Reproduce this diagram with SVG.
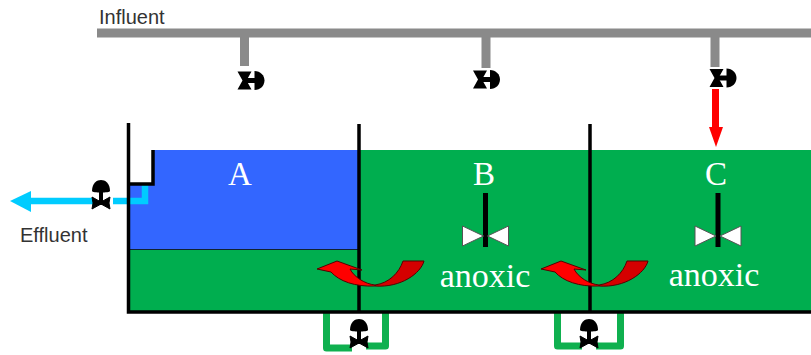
<svg xmlns="http://www.w3.org/2000/svg" width="811" height="355" viewBox="0 0 811 355">
<style>
.lbl{font-family:"Liberation Sans",Arial,sans-serif;font-size:20px;fill:#333}
.ser{font-family:"Liberation Serif","Times New Roman",serif;fill:#fff;text-anchor:middle}
.wall{stroke:#000;stroke-width:3.500;fill:none}
.pipe{stroke:#8a8a8a;stroke-width:9;fill:none}
.ret{stroke:#0fb04f;stroke-width:7;fill:none;stroke-linejoin:round}
.blue{stroke:#00ccff;stroke-width:6.500;fill:none}
.imp{fill:#fff;stroke:#555;stroke-width:1}
</style>
<defs>
<g id="valveV">
<path d="M-9 -7 C-9 -15 -4 -18 0 -18 C4 -18 9 -15 9 -7 C9 -5 -9 -5 -9 -7 Z" fill="#000"/>
<rect x="-2" y="-7" width="4" height="14" fill="#000"/>
<path d="M-9 -1 L0 4 L9 -1 L8 5 L9 11 L0 6 L-9 11 L-8 5 Z" fill="#000" stroke="#000"/>
</g>
<g id="valveH">
<path d="M-7 -9 L7 -9 L2 0 L7 9 L-7 9 L-2 0 Z" fill="#000"/>
<rect x="0" y="-2.500" width="11" height="5" fill="#000"/>
<path d="M10 -9.500 C16 -9.500 20 -5 20 0 C20 5 16 9.500 10 9.500 Z" fill="#000"/>
</g>
<g id="mixer">
<rect x="-2.500" y="-41" width="5" height="54" fill="#000"/>
<path class="imp" d="M-23 -8 L-2 2 L-23 12 Z"/>
<path class="imp" d="M23 -8 L2 2 L23 12 Z"/>
</g>
<g id="swirl">
<path d="M16 24 C30 22 40 12 44 0 L65 0 C62 12 42 27 16 25 Z" fill="#d40000" stroke="#500" stroke-width="1"/>
<path d="M-42 8 L-22 0 L3 9 L-9 8 C-5 16 6 23 16 24 L16 25 C-4 26 -20 20 -28 11 Z" fill="#ff0000" stroke="#500" stroke-width="1"/>
</g>
</defs>
<g id="tank-a">
<rect x="129" y="184" width="229" height="129" fill="#00ae4f"/>
<rect x="153" y="150" width="205" height="40" fill="#3366ff"/>
<rect x="129" y="184" width="229" height="66" fill="#3366ff"/>
<path d="M129 249.500H358" stroke="#123" stroke-width="1"/>
<text class="ser" x="240" y="185" font-size="33">A</text>
</g>
<g id="tank-b">
<rect x="358" y="150" width="232" height="163" fill="#00ae4f"/>
<text class="ser" x="484" y="185" font-size="33">B</text>
<use href="#mixer" x="485.500" y="234"/>
<text class="ser" x="485" y="287" font-size="34">anoxic</text>
</g>
<g id="tank-c">
<rect x="590" y="150" width="221" height="163" fill="#00ae4f"/>
<text class="ser" x="716" y="185" font-size="33">C</text>
<use href="#mixer" x="718" y="234"/>
<text class="ser" x="714" y="286" font-size="34">anoxic</text>
</g>
<g id="influent">
<path class="pipe" d="M97 33H811"/>
<text class="lbl" x="99" y="24">Influent</text>
</g>
<g id="connectors">
<path class="pipe" d="M244.500 37V66M486 37V68M715 37V67"/>
<path d="M715.500 89V129" stroke="#f00" stroke-width="7" fill="none"/>
<path d="M709 127H723L716 147Z" fill="#f00"/>
<path class="blue" d="M113 201H145V185"/>
<path class="blue" d="M93 201H29"/>
<path d="M10 201L31 191V212Z" fill="#00ccff"/>
<path class="ret" d="M326.500 313V348H352"/>
<path class="ret" d="M366 346H385.500V313"/>
<path class="ret" d="M557.500 313V346H582"/>
<path class="ret" d="M596 346H620.500V313"/>
<path class="wall" d="M128.500 123V312H811"/>
<path class="wall" d="M129 184H153V150"/>
<path class="wall" d="M359 124V312M590 124V312"/>
</g>
<g id="valves">
<use href="#valveH" x="244.500" y="80.500"/>
<use href="#valveH" x="480" y="79.500"/>
<use href="#valveH" x="716.500" y="78"/>
<use href="#valveV" x="101" y="198"/>
<use href="#valveV" x="359" y="337"/>
<use href="#valveV" x="589" y="337"/>
</g>
<g id="swirls">
<use href="#swirl" x="359" y="261"/>
<use href="#swirl" x="583" y="261"/>
</g>
<text class="lbl" x="20" y="242">Effluent</text>
</svg>
